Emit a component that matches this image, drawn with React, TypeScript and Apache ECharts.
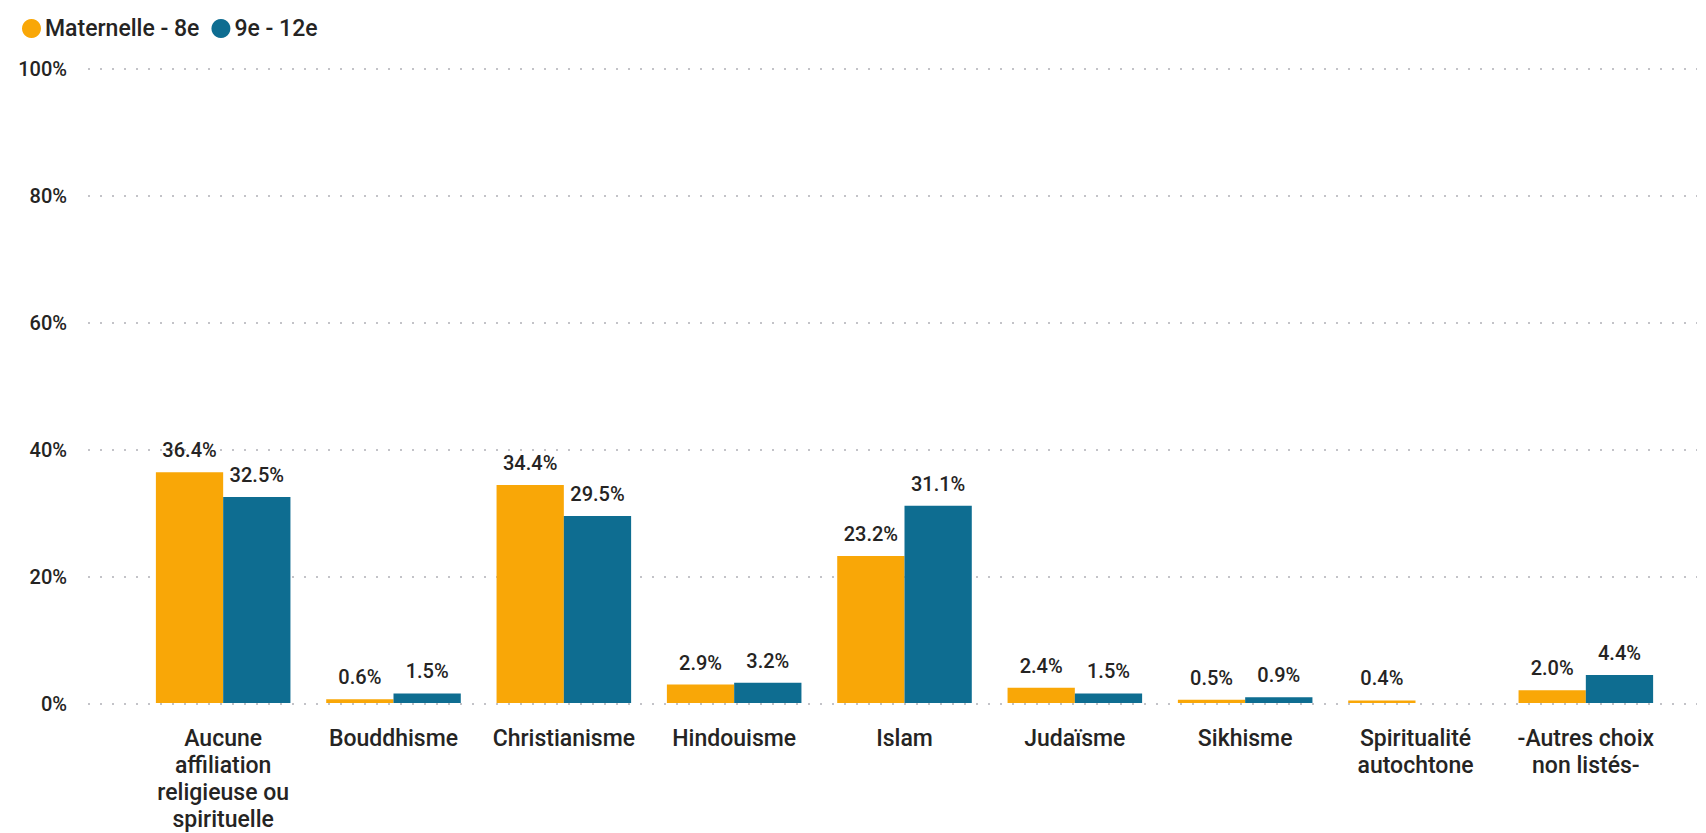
import React, { useEffect, useRef } from "react";
import * as echarts from "echarts";

const categories = [
  "Aucune\naffiliation\nreligieuse ou\nspirituelle",
  "Bouddhisme",
  "Christianisme",
  "Hindouisme",
  "Islam",
  "Judaïsme",
  "Sikhisme",
  "Spiritualité\nautochtone",
  "-Autres choix\nnon listés-",
];
const seriesNames = ["Maternelle - 8e", "9e - 12e"];
const maternelle = [36.4, 0.6, 34.4, 2.9, 23.2, 2.4, 0.5, 0.4, 2.0];
const secondaire = [32.5, 1.5, 29.5, 3.2, 31.1, 1.5, 0.9, null, 4.4];
const yTicks = { min: 0, max: 100, interval: 20 };

const FONT = "Roboto";
const TEXT = "#252423";
const ORANGE = "#F9A707";
const BLUE = "#0E6D91";

export default function App() {
  const ref = useRef<HTMLDivElement>(null);
  useEffect(() => {
    if (!ref.current) return;
    const chart = echarts.init(ref.current, null, { renderer: "svg" });
    const label = {
      show: true,
      position: "top",
      distance: 12,
      fontFamily: FONT,
      fontSize: 20,
      fontWeight: 500,
      color: TEXT,
      formatter: (p: any) => (p.value == null ? "" : Number(p.value).toFixed(1) + "%"),
    };
    chart.setOption({
      animation: false,
      textStyle: { fontFamily: FONT },
      legend: {
        left: 17,
        top: 12,
        icon: "circle",
        itemWidth: 19,
        itemHeight: 19,
        itemGap: 12,
        textStyle: { fontFamily: FONT, fontSize: 23, fontWeight: 500, color: TEXT, padding: [0, 0, 0, -1] },
        data: seriesNames,
      },
      grid: [
        { left: 88, right: 9, top: 69, bottom: 129 },
        { left: 138, right: 35, top: 69, bottom: 129 },
      ],
      xAxis: [
        { type: "value", gridIndex: 0, show: false, min: 0, max: 1 },
        {
          type: "category",
          gridIndex: 1,
          data: categories,
          axisLine: { show: false },
          axisTick: { show: false },
          axisLabel: {
            interval: 0,
            margin: 22,
            fontFamily: FONT,
            fontSize: 23,
            fontWeight: 500,
            lineHeight: 27,
            color: TEXT,
            align: "center",
          },
        },
      ],
      yAxis: [
        {
          type: "value",
          gridIndex: 0,
          min: yTicks.min,
          max: yTicks.max,
          interval: yTicks.interval,
          axisLine: { show: false },
          axisTick: { show: false },
          axisLabel: {
            formatter: "{value}%",
            margin: 21,
            fontFamily: FONT,
            fontSize: 20,
            fontWeight: 500,
            color: TEXT,
          },
          splitLine: {
            show: true,
            lineStyle: { color: "#C3C3C8", width: 2, type: [2, 10] },
          },
        },
        {
          type: "value",
          gridIndex: 1,
          min: yTicks.min,
          max: yTicks.max,
          interval: yTicks.interval,
          show: false,
          splitLine: { show: false },
        },
      ],
      series: [
        {
          name: seriesNames[0],
          type: "bar",
          xAxisIndex: 1,
          yAxisIndex: 1,
          data: maternelle,
          itemStyle: { color: ORANGE },
          barGap: "0%",
          barCategoryGap: "21%",
          label,
        },
        {
          name: seriesNames[1],
          type: "bar",
          xAxisIndex: 1,
          yAxisIndex: 1,
          data: secondaire,
          itemStyle: { color: BLUE },
          barGap: "0%",
          barCategoryGap: "21%",
          label,
        },
      ],
    });
    return () => chart.dispose();
  }, []);
  return (
    <div
      ref={ref}
      style={{ position: "fixed", left: 0, top: 0, width: 1706, height: 833, background: "#fff" }}
    />
  );
}
